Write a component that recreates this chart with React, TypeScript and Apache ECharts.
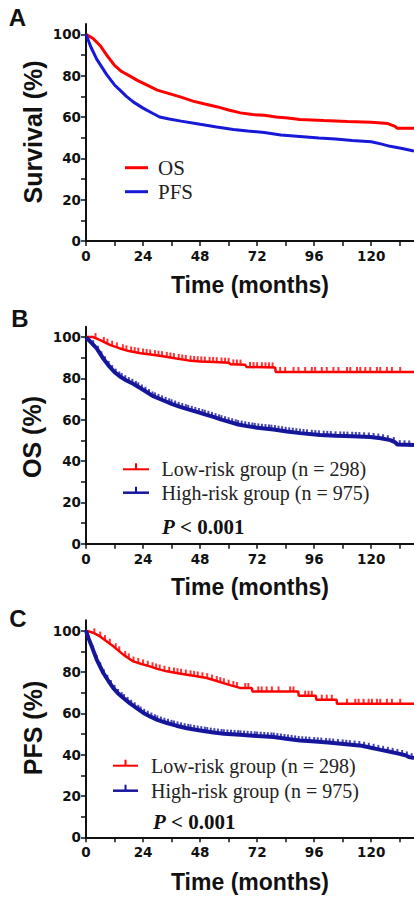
import React, { useEffect, useRef } from 'react';
import * as echarts from 'echarts';

// ---- tick values ----
const X_LABELS = [0, 24, 48, 72, 96, 120];
const X_TICKS = [0, 12, 24, 36, 48, 60, 72, 84, 96, 108, 120, 132];
const Y_LABELS = [0, 20, 40, 60, 80, 100];
const Y_TICKS = [0, 10, 20, 30, 40, 50, 60, 70, 80, 90, 100];

// ---- panel A: overall survival curves [months, %] ----
const A_OS = [[0,100],[3,98],[6,94.5],[9,89.5],[12,85],[15,82],[18.5,79.8],[22,77.5],[25.5,75.5],[30,73],[35,71.3],[40,69.6],[45,67.7],[50,66.3],[55,65],[60,63.4],[65,62],[70,61.2],[75,60.8],[80,60],[85,59.5],[90,58.8],[95,58.6],[100,58.3],[110,57.8],[120,57.5],[127,56.8],[130,55.5],[131,54.5],[138,54.5]];
const A_PFS = [[0,100],[2,94],[4.5,88],[8.7,80.5],[12,75.5],[14.3,73],[17,70],[20,67.2],[24,64.3],[28,61.8],[31,60],[35,59],[40,58],[48,56.5],[55,55.2],[62,54],[68,53.2],[75,52.5],[82,51.3],[90,50.6],[98,49.8],[105,49.3],[112,48.6],[120,48],[124,47],[128,45.8],[133,44.8],[138,43.5]];

// ---- panel B: OS by risk group ----
const B_LOW = [[0,100],[3,100],[6,98.5],[10,96.2],[14,94.6],[18,93.2],[23,92.2],[28,91.4],[33,90.6],[38,89.6],[43,88.7],[48,88.2],[54,87.9],[60,87.5],[61,86.8],[67,86.6],[67.5,85.5],[79.6,85.3],[79.8,83.1],[138,83.1]];
const B_HIGH = [[0,100],[2,97.5],[4.5,94.5],[7,90],[10,85.5],[12,83],[14.3,80.9],[17,79],[20,77.3],[24,74.5],[28,71.5],[32.6,69.3],[36,67.7],[39.6,66.2],[43,65],[46.6,63.8],[50,62.6],[53.6,61.4],[57,60],[60.6,58.8],[64,57.7],[67.7,56.9],[72,56.1],[78.9,55.3],[84.5,54.3],[90,53.5],[98.5,52.6],[105,52.2],[112,52],[119.6,51.6],[124,51],[128,50.1],[130,49.2],[131,48],[138,47.7]];
const B_LOW_CENSOR = [4,7.5,9,11,13,15.5,17,19,20.5,22,24,25.5,27,29,30.5,32,34,35.5,37,39,40.5,42,44,45.5,47,48.5,50,52,53.5,55,57,58.5,60,62,63.5,65,69,70.5,72,74,75.5,77,78.5,81.7,83.8,87.3,89.4,92.2,95,96.4,99.2,101.3,104.1,106.2,109.8,111.2,114,115.4,117.5,119.6,122.4,123.8,126.6,128.7,132.2];
const B_HIGH_CENSOR = [3,5,6.5,8,9.5,11,12.5,14,15,16.5,18,19.5,21,22,23.5,25,26.5,28,29,30.5,32,33.5,35,36,37.5,39,40.5,42,43,44.5,46,47.5,49,50,51.5,53,54.5,56,57,58.5,60,61.5,63,64,65.5,67,68.5,70,71,72.5,74,75.5,77,78,79.5,81,82.5,84,85.5,87,88.5,90,91.5,93,95,96.5,98,100,101.5,103,105,107,108.5,110,112,113.5,115,117,119,121,123,125,127,129.5,132,134,136];

// ---- panel C: PFS by risk group ----
const C_LOW = [[0,100],[3,99],[5.9,97.2],[8.5,95],[11.5,92.4],[15.7,88.4],[19.9,85.1],[23,84],[26.9,82.7],[30,81.5],[34,80.3],[38,79.5],[42.4,78.7],[46,78],[50.8,77.1],[54,76],[57.8,74.6],[61,73.5],[64.8,72.3],[69.8,72.2],[70,70.6],[89.3,70.6],[89.5,68.5],[96.7,68.5],[96.9,66.6],[105.4,66.6],[105.6,64.6],[138,64.6]];
const C_HIGH = [[0,100],[1,96.5],[2.4,92.4],[4.5,86],[7.3,79.5],[9.5,75.5],[11.5,72.2],[13.5,69.6],[15.7,67.4],[18.5,64.8],[21.3,62.5],[24,60.3],[26.9,58.5],[30,56.8],[34,55.3],[38,54],[42.4,52.8],[48,51.7],[53.6,50.7],[58,50.1],[64.8,49.6],[72,49],[78.9,48.5],[85,47.6],[90,46.8],[96.4,46.3],[103,45.7],[110.5,44.9],[116,44.3],[120.4,43.2],[124,42.3],[127.4,41.5],[131,40.6],[134.4,39.7],[136,38.8],[138,38.3]];
const C_LOW_CENSOR = [3.5,6,8,10,12.5,14,16.5,18,20,22,24,26,28,29.5,31,33,35,37,38.5,40,42,44,45.5,47,49,51,53,55,56.5,58,60,62,63.5,67,68.3,72.5,73.9,76,78.2,81,85.9,87.3,92.2,93.6,95,99.2,101.3,103.4,109.8,113.3,114.7,116.8,118.9,120.3,122.4,123.8,126.6,128.7,132.2];
const C_HIGH_CENSOR = [3,4.5,6,7.5,9,10.5,12,13.5,15,16,17.5,19,20.5,22,23,24.5,26,27.5,29,30,31.5,33,34.5,36,37,38.5,40,41.5,43,44,45.5,47,48.5,50,51,52.5,54,55.5,57,58,59.5,61,62.5,64,65,66.5,68,69.5,71,72,73.5,75,76.5,78,79,80.5,82,83.5,85,86.5,88,89.5,91,92.5,94,96,97.5,99,101,102.5,104,106,108,109.5,111,113,115,117,119,121,123,125,127,129,131,133,135,137];

const RED = '#ff0000';
const BLUE_A = '#1818d8';
const BLUE_BC = '#16169c';
const X_MAX = 138;
const Y_MAX = 105;

const SANS = '"Liberation Sans", Arial, sans-serif';
const SERIF = '"Liberation Serif", "Times New Roman", serif';

function valueAt(curve: number[][], t: number): number {
  for (let i = 1; i < curve.length; i++) {
    const [t0, v0] = curve[i - 1];
    const [t1, v1] = curve[i];
    if (t <= t1) {
      if (t1 === t0) return v1;
      return v0 + ((t - t0) / (t1 - t0)) * (v1 - v0);
    }
  }
  return curve[curve.length - 1][1];
}

const GRID_TOPS = [24, 326.7, 620.3];
const GRID_HEIGHT = 217;

function axesFor(i: number) {
  const labelStyle = {
    fontFamily: '"DejaVu Sans", sans-serif',
    fontWeight: 'bold' as const,
    fontSize: 13.5,
    color: '#111',
  };
  const x = {
    type: 'value', gridIndex: i, min: 0, max: X_MAX,
    axisLine: { show: true, onZero: false, lineStyle: { color: '#111', width: 2 } },
    axisTick: { show: true, length: 5, customValues: X_TICKS, lineStyle: { color: '#111', width: 1.5 } },
    axisLabel: { ...labelStyle, margin: 8, customValues: X_LABELS },
    splitLine: { show: false },
  };
  const y = {
    type: 'value', gridIndex: i, min: 0, max: Y_MAX,
    axisLine: { show: true, onZero: false, lineStyle: { color: '#111', width: 2 } },
    axisTick: { show: true, length: 5, customValues: Y_TICKS, lineStyle: { color: '#111', width: 1.5 } },
    axisLabel: { ...labelStyle, margin: 5, customValues: Y_LABELS },
    splitLine: { show: false },
  };
  return { x, y };
}

function lineSeries(i: number, data: number[][], color: string, width: number) {
  return {
    type: 'line', xAxisIndex: i, yAxisIndex: i, data, showSymbol: false, symbol: 'none',
    lineStyle: { color, width }, itemStyle: { color }, silent: true, z: 3,
  };
}

function censorSeries(i: number, curve: number[][], times: number[], color: string, h: number) {
  return {
    type: 'scatter', xAxisIndex: i, yAxisIndex: i,
    data: times.map((t) => [t, valueAt(curve, t)]),
    symbol: 'rect', symbolSize: [2, h], symbolOffset: [0, -h / 2],
    itemStyle: { color }, silent: true, z: 4,
  };
}

function text(x: number, y: number, t: string, font: string, align = 'center', rotation = 0, fill = '#111') {
  return {
    type: 'text', x, y, rotation,
    style: { text: t, font, fill, align, verticalAlign: 'middle', textAlign: align, textVerticalAlign: 'middle' },
  };
}

function legendLine(x1: number, x2: number, y: number, color: string, width: number, tick: boolean) {
  const items: any[] = [
    { type: 'line', shape: { x1, y1: y, x2, y2: y }, style: { stroke: color, lineWidth: width } },
  ];
  if (tick) {
    const mx = (x1 + x2) / 2;
    items.push({ type: 'line', shape: { x1: mx, y1: y, x2: mx, y2: y - 6 }, style: { stroke: color, lineWidth: 2 } });
  }
  return items;
}

function pText(x: number, y: number) {
  return {
    type: 'text', x, y,
    style: {
      text: '{i|P}{b| < 0.001}',
      align: 'left', verticalAlign: 'middle',
      rich: {
        i: { fontFamily: SERIF, fontWeight: 'bold', fontStyle: 'italic', fontSize: 21, fill: '#111' },
        b: { fontFamily: SERIF, fontWeight: 'bold', fontSize: 21, fill: '#111' },
      },
    },
  };
}

export default function App() {
  const ref = useRef<HTMLDivElement>(null);
  useEffect(() => {
    document.body.style.margin = '0';
    if (!ref.current) return;
    const chart = echarts.init(ref.current, null, { renderer: 'svg' });
    const ax = [axesFor(0), axesFor(1), axesFor(2)];
    const titleFont = `bold 23px ${SANS}`;
    const yTitleFont = `bold 25px ${SANS}`;
    const letterFont = `bold 24px ${SANS}`;
    const option: any = {
      animation: false,
      backgroundColor: '#ffffff',
      grid: GRID_TOPS.map((top) => ({ left: 86, top, width: 328, height: GRID_HEIGHT, containLabel: false, outerBoundsMode: 'none' })),
      xAxis: ax.map((a) => a.x),
      yAxis: ax.map((a) => a.y),
      series: [
        lineSeries(0, A_OS, RED, 3),
        lineSeries(0, A_PFS, BLUE_A, 3),
        lineSeries(1, B_LOW, RED, 2.5),
        lineSeries(1, B_HIGH, BLUE_BC, 4),
        censorSeries(1, B_LOW, B_LOW_CENSOR, RED, 5),
        censorSeries(1, B_HIGH, B_HIGH_CENSOR, BLUE_BC, 4.5),
        lineSeries(2, C_LOW, RED, 2.5),
        lineSeries(2, C_HIGH, BLUE_BC, 4),
        censorSeries(2, C_LOW, C_LOW_CENSOR, RED, 5),
        censorSeries(2, C_HIGH, C_HIGH_CENSOR, BLUE_BC, 4.5),
      ],
      graphic: [
        text(17.5, 17, 'A', letterFont),
        text(20, 318, 'B', letterFont),
        text(18, 618, 'C', letterFont),
        text(33, 132, 'Survival (%)', yTitleFont, 'center', Math.PI / 2),
        text(32, 437, 'OS (%)', yTitleFont, 'center', Math.PI / 2),
        text(33, 728, 'PFS (%)', yTitleFont, 'center', Math.PI / 2),
        text(250, 285, 'Time (months)', titleFont),
        text(250, 587, 'Time (months)', titleFont),
        text(250, 882, 'Time (months)', titleFont),
        ...legendLine(125, 148, 167.7, RED, 3, false),
        ...legendLine(125, 148, 191.7, BLUE_A, 3, false),
        text(158, 167.7, 'OS', `21px ${SERIF}`, 'left', 0, '#222'),
        text(158, 191.7, 'PFS', `21px ${SERIF}`, 'left', 0, '#222'),
        ...legendLine(123, 149, 469.3, RED, 2, true),
        ...legendLine(123, 149, 492.7, BLUE_BC, 2.5, true),
        text(161.5, 469.3, 'Low-risk group (n = 298)', `20px ${SERIF}`, 'left', 0, '#222'),
        text(161.5, 492.7, 'High-risk group (n = 975)', `20px ${SERIF}`, 'left', 0, '#222'),
        pText(162, 526.7),
        ...legendLine(113, 138, 765.7, RED, 2, true),
        ...legendLine(113, 138, 790.7, BLUE_BC, 2.5, true),
        text(151, 765.7, 'Low-risk group (n = 298)', `20px ${SERIF}`, 'left', 0, '#222'),
        text(151, 790.7, 'High-risk group (n = 975)', `20px ${SERIF}`, 'left', 0, '#222'),
        pText(153, 821.7),
      ],
    };
    chart.setOption(option);
    return () => chart.dispose();
  }, []);
  return <div ref={ref} style={{ width: 414, height: 898 }} />;
}
